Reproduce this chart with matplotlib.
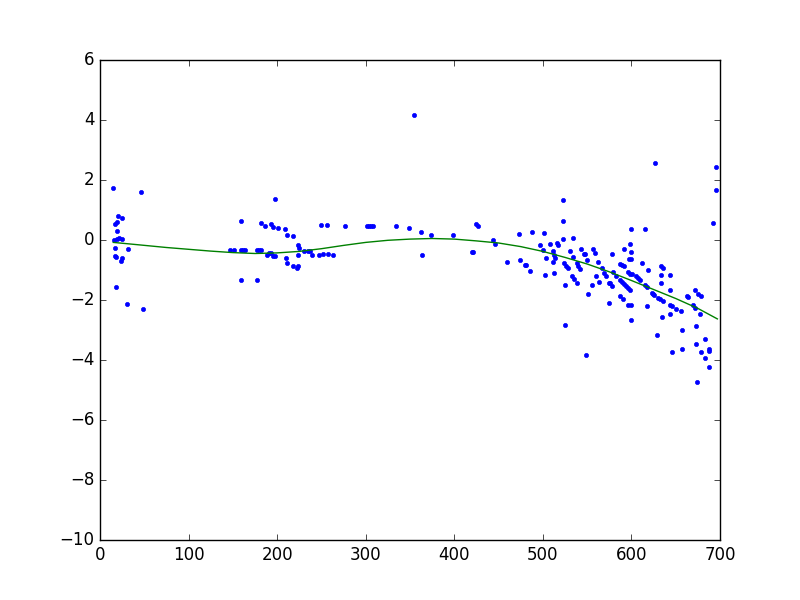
import matplotlib
matplotlib.use("Agg")
import matplotlib.pyplot as plt

plt.style.use("classic")

pts_x = [15, 46.7, 20.7, 24.5, 17, 18.8, 18.8, 15.8, 18.8, 21.8, 24.5, 17, 32, 17, 18,
         24.5, 23.4, 18, 30.8, 48.9,
         146.8, 151.7, 159.5, 161.8, 164, 177.6, 159.5, 159.5, 177.6,
         197.6, 182.1, 186.6, 193.4, 195.7, 201.3, 209.3, 211.5, 218.3, 223.9, 225,
         179.9, 182.1, 191.2, 193.4, 188.9, 195.7, 197.9, 210.4, 211.5, 218.3, 222.8, 223.9,
         223.9, 230.7, 235.2, 237.4, 239.7, 249.9, 256.7, 247.6, 252.1, 257.8, 263.4,
         247.6,
         354.9, 277, 301.8, 304, 306.3, 307.8, 334.5, 349.2, 362.8, 374.1, 398.9, 424.5, 427.1,
         444.1, 446.3, 363.9, 420.4, 421.5, 459.9,
         473.4, 488.1, 501.7, 474.5, 480.2, 481.3, 485.8, 497.1, 500.5, 502.8, 503.9, 508.4,
         511.8, 512.9, 514.1, 511.8, 512.9, 516.3, 517.4, 523.1, 523.1, 523.1, 524.2, 526.5,
         528.7, 525.4, 525.4, 531, 534.4, 534.4, 533.3, 535.5, 538.9, 538.9, 540, 542.3,
         543.4, 546.8, 547.9, 550.2, 549.1, 551.3, 555.8, 557, 559.2, 560.4, 562.6, 563.7,
         567.1, 569.4, 571.7, 575.1, 575.1,
         627, 695.9, 695.9, 692.5, 599.9, 615.7, 578.5, 576.2, 578.5, 579.6, 583, 592,
         587.5, 589.7, 592, 587.5, 589.7, 592, 594.2, 596.5, 598.7, 587.5, 590.9,
         596.5, 598.7, 601, 596.5, 599.9, 599.9, 598.7, 599.9, 597.6, 599.9,
         605.5, 607.8, 610, 612.3, 615.7, 617.9, 619, 617.9, 623.5, 624.7, 625.8,
         630.3, 632.5, 635.9, 629.2, 633.7, 635.9, 633.7, 633.7, 634.8,
         643.8, 643.8, 643.8, 646.1, 643.8, 646.1, 650.6, 656.3, 657.4, 657.4,
         663.1, 664.3, 672.1, 675.5, 678.9, 669.8, 672.1, 677.8, 673.3, 673.3, 674.4,
         678.9, 683.4, 683.4, 688, 688, 688]
pts_y = [1.72, 1.59, 0.79, 0.72, 0.53, 0.59, 0.29, 0.0, 0.04, 0.08, 0.02, -0.28, -0.31, -0.53, -0.56,
         -0.59, -0.69, -1.58, -2.14, -2.31,
         -0.34, -0.34, -0.34, -0.34, -0.34, -0.34, 0.62, -1.34, -1.34,
         1.36, 0.56, 0.46, 0.52, 0.42, 0.39, 0.36, 0.16, 0.12, -0.18, -0.26,
         -0.34, -0.34, -0.44, -0.44, -0.51, -0.54, -0.54, -0.61, -0.78, -0.86, -0.92, -0.86,
         -0.51, -0.38, -0.38, -0.38, -0.51, 0.49, 0.49, -0.51, -0.48, -0.48, -0.51,
         -10.05,
         4.16, 0.46, 0.46, 0.46, 0.46, 0.46, 0.46, 0.39, 0.26, 0.16, 0.16, 0.52, 0.46,
         -0.01, -0.14, -0.51, -0.41, -0.41, -0.74,
         0.19, 0.26, 0.22, -0.68, -0.84, -0.84, -1.04, -0.18, -0.34, -1.18, -0.61, -0.14,
         -0.38, -0.51, -0.61, -0.74, -1.11, -0.11, -0.18, 1.32, 0.62, 0.02, -0.78, -0.88,
         -0.94, -1.51, -2.84, -0.38, 0.06, -0.58, -1.21, -1.31, -1.44, -0.78, -0.88, -0.98,
         -0.31, -0.48, -0.48, -0.68, -3.84, -1.81, -1.51, -0.31, -0.44, -1.21, -0.74, -1.41,
         -0.94, -1.11, -1.21, -1.44, -2.11,
         2.56, 2.42, 1.66, 0.56, 0.36, 0.36, -0.48, -1.44, -1.54, -1.08, -1.21, -0.31,
         -0.81, -0.84, -0.88, -1.34, -1.41, -1.48, -1.54, -1.61, -1.68, -1.88, -1.98,
         -1.08, -1.14, -1.14, -2.18, -2.18, -2.68, -0.14, -0.41, -0.64, -0.64,
         -1.21, -1.28, -1.34, -0.78, -1.51, -1.58, -1.01, -2.21, -1.78, -1.81, -1.84,
         -1.94, -1.98, -2.04, -3.18, -0.88, -0.94, -1.18, -1.44, -2.58,
         -1.18, -1.68, -2.18, -2.21, -2.48, -3.74, -2.31, -2.38, -3.01, -3.64,
         -1.88, -1.91, -1.68, -1.81, -1.88, -2.18, -2.28, -2.48, -2.88, -3.48, -4.74,
         -3.74, -3.31, -3.94, -3.64, -3.71, -4.24]

fit_x = [15, 40, 75, 100, 125, 150, 175, 200, 225, 250, 275, 300, 325, 350, 375,
         400, 425, 450, 475, 500, 525, 550, 575, 600, 625, 650, 675, 697]
fit_y = [-0.08, -0.15, -0.25, -0.31, -0.37, -0.42, -0.45, -0.43, -0.38, -0.29, -0.18,
         -0.08, -0.01, 0.03, 0.05, 0.03, -0.03, -0.10, -0.22, -0.38, -0.58, -0.80,
         -1.06, -1.35, -1.65, -1.95, -2.28, -2.63]

fig = plt.figure(figsize=(8, 6), dpi=100)
ax = fig.add_subplot(111)
ax.plot(pts_x, pts_y, 'b.')
ax.plot(fit_x, fit_y, 'g-')
ax.set_xlim(0, 700)
ax.set_ylim(-10, 6)
fig.savefig("out.png", dpi=100)
